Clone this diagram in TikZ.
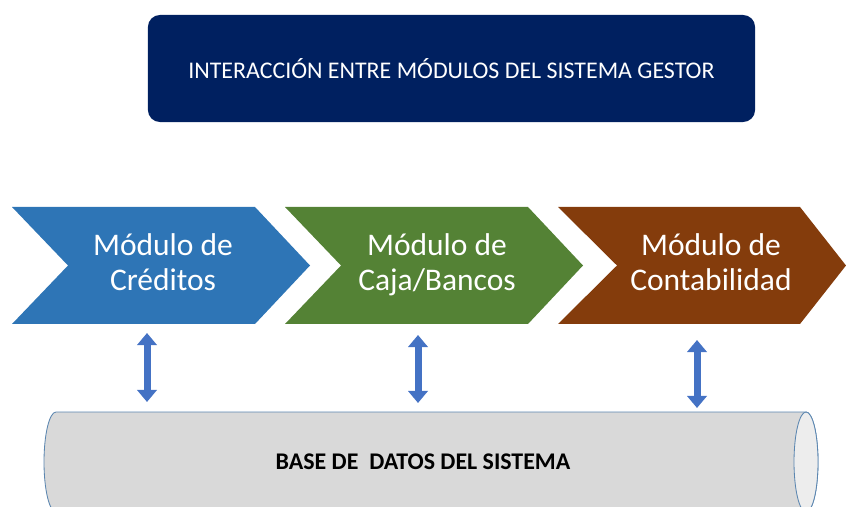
\documentclass[tikz,border=0pt]{standalone}
\usepackage{fontspec}
\setmainfont{Carlito}
\usetikzlibrary{arrows.meta}

\definecolor{navy}{HTML}{002060}
\definecolor{credblue}{HTML}{2E75B6}
\definecolor{cajagreen}{HTML}{548235}
\definecolor{contbrown}{HTML}{843C0C}
\definecolor{linkblue}{HTML}{4472C4}
\definecolor{bdgray}{HTML}{D9D9D9}
\definecolor{bdend}{HTML}{EDEDED}
\definecolor{bdline}{HTML}{5B86B0}

\tikzset{
  titlebox/.style={shape=rectangle, rounded corners=0.3cm, fill=navy, text=white,
    minimum width=15.175cm, minimum height=2.675cm, font=\fontsize{17}{20}\selectfont},
  modtext/.style={text=white, align=center, font=\fontsize{22.4}{25}\selectfont},
  link/.style={linkblue, line width=0.175cm,
    {Triangle[width=0.48cm,length=0.3cm]}-{Triangle[width=0.48cm,length=0.3cm]}},
  bdtext/.style={font=\bfseries\fontsize{17}{20}\selectfont}
}

\begin{document}
\begin{tikzpicture}[x=0.025cm,y=0.025cm]
\useasboundingbox (0,0) rectangle (846,506);

% titulo
\path (451.5,437.5) node (titulo) [titlebox] {INTERACCIÓN ENTRE MÓDULOS DEL SISTEMA GESTOR};

% modulos
\fill[credblue] (12,299) -- (255,299) -- (310,240.5) -- (255,182) -- (12,182) -- (68,240.5) -- cycle;
\fill[cajagreen] (285,299) -- (528,299) -- (583,240.5) -- (528,182) -- (285,182) -- (341,240.5) -- cycle;
\fill[contbrown] (558,299) -- (800,299) -- (846,240.5) -- (800,182) -- (558,182) -- (617,240.5) -- cycle;

\path (163,243.5) node (cred) [modtext] {Módulo de\\Créditos};
\path (437,241.5) node (caja) [modtext] {Módulo de\\Caja/Bancos};
\path (711,243.5) node (cont) [modtext] {Módulo de\\Contabilidad};

% base de datos
\filldraw[fill=bdgray, draw=bdline, line width=0.6pt] (56,94) -- (806,94)
  arc[start angle=90, end angle=-90, x radius=12, y radius=50] -- (56,-6)
  arc[start angle=270, end angle=90, x radius=12, y radius=50] -- cycle;
\filldraw[fill=bdend, draw=bdline, line width=0.6pt] (806,44) ellipse [x radius=12, y radius=50];
\path (423,44) node (bd) [bdtext] {BASE DE\ \ DATOS DEL SISTEMA};

% enlaces
\coordinate (c1) at (147,173);
\coordinate (b1) at (147,104);
\coordinate (c2) at (418,171);
\coordinate (b2) at (418,103);
\coordinate (c3) at (697,166);
\coordinate (b3) at (697,98);
\draw[link] (c1) -- (b1);
\draw[link] (c2) -- (b2);
\draw[link] (c3) -- (b3);

\end{tikzpicture}
\end{document}
